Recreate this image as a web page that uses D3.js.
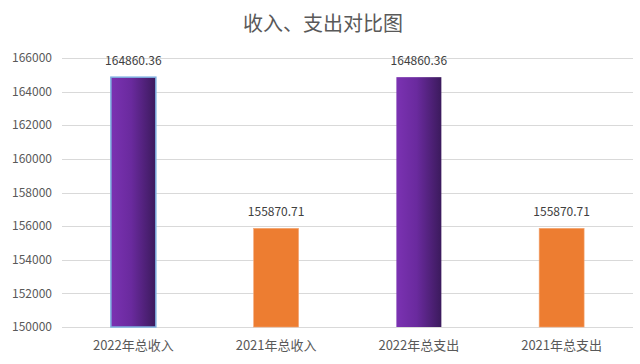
<!DOCTYPE html>
<head>
<meta charset="utf-8">
<script src="https://cdn.jsdelivr.net/npm/d3@7/dist/d3.min.js"></script>
<style>
body { margin: 0; background: #fff; }
text { font-family: "Noto Sans CJK SC", "Liberation Sans", sans-serif; }
</style>
</head>
<svg width="640" height="364"></svg>

<script>
    var categories = ["2022年总收入", "2021年总收入", "2022年总支出", "2021年总支出"];
    var values = [164860.36, 155870.71, 164860.36, 155870.71];
    var kinds = ["purple", "orange", "purple", "orange"];
    var yTicks = [150000, 152000, 154000, 156000, 158000, 160000, 162000, 164000, 166000];

    var svg = d3.select("svg"),
        margin = {top: 58, right: 7, bottom: 37, left: 62},
        width = +svg.attr("width") - margin.left - margin.right,
        height = +svg.attr("height") - margin.top - margin.bottom,
        g = svg.append("g").attr("transform", "translate(" + margin.left + "," + margin.top + ")");

    var defs = svg.append("defs");
    var grad = defs.append("linearGradient").attr("id", "purpleGrad")
        .attr("x1", "0%").attr("x2", "100%").attr("y1", "0%").attr("y2", "0%");
    grad.append("stop").attr("offset", "0%").attr("stop-color", "#7b32b2");
    grad.append("stop").attr("offset", "45%").attr("stop-color", "#6a2a9e");
    grad.append("stop").attr("offset", "100%").attr("stop-color", "#3b1a5c");

    var x = d3.scaleBand()
        .domain(categories)
        .range([0, width])
        .paddingInner(0.685)
        .paddingOuter(0.3425);

    var y = d3.scaleLinear()
        .domain([150000, 166000])
        .range([height, 0]);

    // title
    svg.append("text")
        .attr("x", 323)
        .attr("y", 31)
        .attr("text-anchor", "middle")
        .attr("font-size", 20)
        .attr("fill", "#595959")
        .text("收入、支出对比图");

    // gridlines
    g.append("g")
      .selectAll("line")
      .data(yTicks)
      .enter().append("line")
        .attr("x1", 0)
        .attr("x2", width)
        .attr("y1", function(d) { return Math.round(y(d)) + 0.5; })
        .attr("y2", function(d) { return Math.round(y(d)) + 0.5; })
        .attr("stroke", "#d9d9d9")
        .attr("stroke-width", 1);

    // y axis labels
    g.append("g")
      .selectAll("text")
      .data(yTicks)
      .enter().append("text")
        .attr("x", -10)
        .attr("y", function(d) { return y(d); })
        .attr("dy", "0.35em")
        .attr("text-anchor", "end")
        .attr("font-size", 12)
        .attr("fill", "#595959")
        .text(function(d) { return d; });

    // bars
    g.append("g")
      .selectAll("rect")
      .data(values)
      .enter().append("rect")
        .attr("x", function(d, i) { return x(categories[i]); })
        .attr("y", function(d) { return y(d); })
        .attr("width", x.bandwidth())
        .attr("height", function(d) { return y(150000) - y(d); })
        .attr("fill", function(d, i) { return kinds[i] == "purple" ? "url(#purpleGrad)" : "#ed7d31"; })
        .attr("stroke", function(d, i) { return i == 0 ? "#7fb0e0" : (kinds[i] == "orange" ? "#f3a877" : "none"); })
        .attr("stroke-width", function(d, i) { return i == 0 ? 1.5 : 0.6; });

    // value labels
    g.append("g")
      .selectAll("text")
      .data(values)
      .enter().append("text")
        .attr("x", function(d, i) { return x(categories[i]) + x.bandwidth() / 2; })
        .attr("y", function(d) { return y(d) - 12; })
        .attr("text-anchor", "middle")
        .attr("font-size", 12)
        .attr("fill", "#404040")
        .text(function(d) { return d.toFixed(2); });

    // x labels
    g.append("g")
      .selectAll("text")
      .data(categories)
      .enter().append("text")
        .attr("x", function(d) { return x(d) + x.bandwidth() / 2; })
        .attr("y", height + 23)
        .attr("text-anchor", "middle")
        .attr("font-size", 13)
        .attr("fill", "#595959")
        .text(function(d) { return d; });
</script>
